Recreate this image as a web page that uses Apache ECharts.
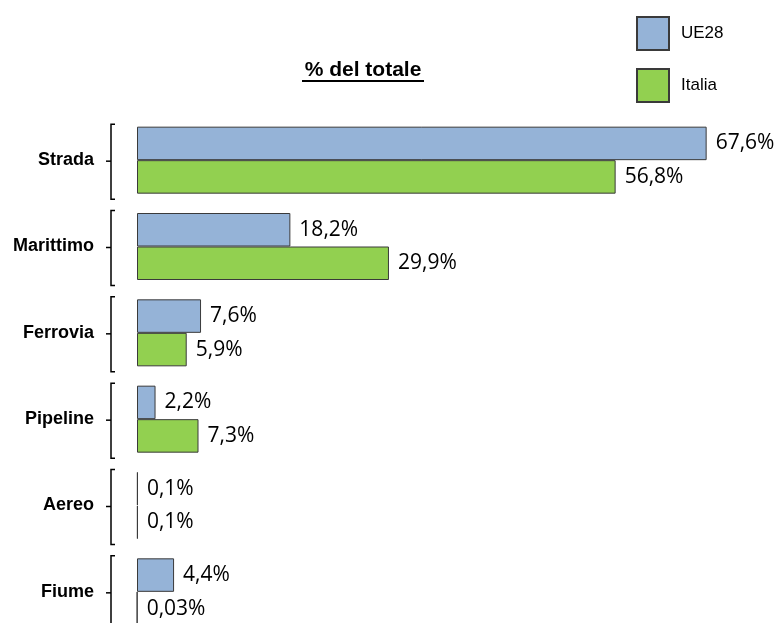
<!DOCTYPE html>
<html><head><meta charset="utf-8">
<script src="https://cdn.jsdelivr.net/npm/echarts@6/dist/echarts.min.js"></script>
<style>html,body{margin:0;padding:0;background:#fff;overflow:hidden}#c{width:782px;height:660px}</style>
</head><body><div id="c"></div>
<script>
const categories = ['Strada','Marittimo','Ferrovia','Pipeline','Aereo','Fiume'];
const ue28 = [67.6, 18.2, 7.6, 2.2, 0.1, 4.4];
const italia = [56.8, 29.9, 5.9, 7.3, 0.1, 0.03];
const seriesNames = ['UE28','Italia'];
const titleText = '% del totale';

const fmt = p => String(p.value).replace('.', ',') + '%';
const labelStyle = {show:true, position:'right', distance:9, formatter:fmt, color:'#000', fontFamily:'Open Sans', fontSize:21, padding:[3,0,0,0]};
const chart = echarts.init(document.getElementById('c'));
chart.setOption({
  animation:false,
  legend:{data:seriesNames, orient:'vertical', left:636, top:16, padding:0, itemWidth:32, itemHeight:33, itemGap:17,
    icon:'rect', textStyle:{fontFamily:'Liberation Sans', fontSize:17, color:'#000', padding:[0,0,0,7]}},
  graphic:[
    {type:'text', x:363, y:70, style:{text:titleText, font:'bold 21px "Liberation Sans"', fill:'#000', align:'center', verticalAlign:'middle'}, z:10},
    {type:'line', shape:{x1:302, y1:81, x2:424, y2:81}, style:{stroke:'#000', lineWidth:2}}
  ],
  grid:{left:137, top:117, width:632, height:518},
  xAxis:{type:'value', min:0, max:75, show:false},
  yAxis:{type:'category', data:categories, inverse:true, axisLine:{show:false}, axisTick:{show:false},
    axisLabel:{margin:43, fontFamily:'Liberation Sans', fontWeight:'bold', fontSize:18, color:'#000'}},
  series:[
    {name:seriesNames[0], type:'bar', data:ue28, barWidth:33.5, barGap:'0%',
      itemStyle:{color:'#95B3D7', borderColor:'#3a3a3a', borderWidth:1}, label:labelStyle},
    {name:seriesNames[1], type:'bar', data:italia, barWidth:33.5,
      itemStyle:{color:'#92D050', borderColor:'#3a3a3a', borderWidth:1}, label:labelStyle},
    {type:'custom', clip:false, silent:true, data:categories.map((c,i)=>[0,i]),
      renderItem:(params, api)=>{
        const pt = api.coord([0, api.value(1)]);
        const x = pt[0]-26, y = pt[1]+1;
        return {type:'group', children:[
          {type:'polyline', shape:{points:[[x+4,y-37],[x,y-37],[x,y+38],[x+4,y+38]]}, style:{stroke:'#000', lineWidth:1.5, fill:null}},
          {type:'line', shape:{x1:x-5, y1:y, x2:x, y2:y}, style:{stroke:'#000', lineWidth:1.5}}
        ]};
      }}
  ]
});
</script></body></html>
